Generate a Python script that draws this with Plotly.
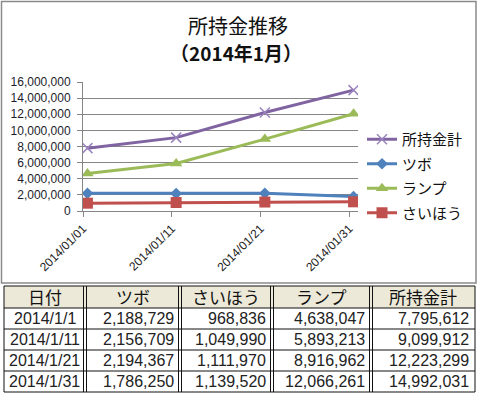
import plotly.graph_objects as go
import pandas as pd

# ---- data ----
dates = ["2014/1/1", "2014/1/11", "2014/1/21", "2014/1/31"]
tsubo = [2188729, 2156709, 2194367, 1786250]
saihou = [968836, 1049990, 1111970, 1139520]
lamp = [4638047, 5893213, 8916962, 12066261]
total = [7795612, 9099912, 12223299, 14992031]
headers = ["日付", "ツボ", "さいほう", "ランプ", "所持金計"]
title_line1 = "所持金推移"
title_line2 = "（2014年1月）"

W, H = 480, 398
def px(x):
    return x / W
def py(y):
    return 1 - y / H

xd = pd.to_datetime(dates, format="%Y/%m/%d")

fig = go.Figure()
series = [
    ("所持金計", total, "#8064A2", dict(symbol="x-thin", size=10, line=dict(width=1.5, color="#9A84BE"))),
    ("ツボ", tsubo, "#4F81BD", dict(symbol="diamond", size=9)),
    ("ランプ", lamp, "#9BBB59", dict(symbol="triangle-up", size=11)),
    ("さいほう", saihou, "#C0504D", dict(symbol="square", size=11)),
]
for name, vals, col, mk in series:
    mk = dict(mk)
    mk.setdefault("color", col)
    fig.add_trace(go.Scatter(
        x=xd, y=vals, name=name, mode="lines+markers", legendgroup=name,
        line=dict(color=col, width=3), marker=mk,
        xperiod=86400000, xperiodalignment="middle",
    ))

fig.update_layout(
    width=W, height=H, margin=dict(l=0, r=0, t=0, b=0, autoexpand=False),
    paper_bgcolor="white", plot_bgcolor="white",
    showlegend=True,
    legend=dict(x=px(362), y=py(123), xanchor="left", yanchor="top",
                font=dict(family="Noto Sans CJK JP", size=15, color="#111"),
                bgcolor="rgba(0,0,0,0)", itemwidth=30, tracegroupgap=2),
    xaxis=dict(
        domain=[px(83), px(358)], automargin=False,
        range=[pd.Timestamp("2014-01-01"), pd.Timestamp("2014-02-01")],
        tickvals=xd, tickformat="%Y/%m/%d", tickangle=-45,
        ticks="outside", ticklen=5, tickcolor="#868686",
        showline=True, linecolor="#868686", linewidth=1,
        showgrid=False, zeroline=False,
        tickfont=dict(family="Liberation Sans", size=12, color="#222"),
    ),
    yaxis=dict(
        domain=[py(211), py(82)], automargin=False,
        range=[0, 16000000], dtick=2000000, tickformat=",d",
        ticks="outside", ticklen=5, tickcolor="#868686",
        showline=True, linecolor="#868686", linewidth=1,
        showgrid=True, gridcolor="#868686", gridwidth=1, zeroline=False,
        tickfont=dict(family="Liberation Sans", size=12, color="#1c1c2c"),
        ticklabelstandoff=4,
    ),
)

def ann(x, y, text, font, xanchor="center"):
    return dict(x=x, y=y, text=text, showarrow=False, xref="paper", yref="paper",
                xanchor=xanchor, yanchor="middle", font=font)

annotations = [
    ann(px(238), py(26), title_line1, dict(family="Noto Sans CJK JP", size=20, color="#111")),
    ann(px(236), py(52), "<b>" + title_line2 + "</b>", dict(family="Noto Sans CJK JP", size=19, color="#111")),
]

shapes = [
    # chart frame
    dict(type="rect", xref="paper", yref="paper", x0=px(1.5), x1=px(476), y0=py(283), y1=py(1.5),
         line=dict(color="#8a8a8a", width=1.5), layer="above"),
]

# ---- table ----
col_edges = [4, 85, 180, 272, 371, 475]
row_edges = [286, 308, 329, 350, 371, 392]
shapes.append(dict(type="rect", xref="paper", yref="paper", x0=px(col_edges[0]), x1=px(col_edges[-1]),
                   y0=py(row_edges[1]), y1=py(row_edges[0]), fillcolor="#ECE9D8", line=dict(width=0), layer="below"))
for yv in row_edges:
    shapes.append(dict(type="line", xref="paper", yref="paper", x0=px(col_edges[0]), x1=px(col_edges[-1]),
                       y0=py(yv), y1=py(yv), line=dict(color="#111", width=1)))
for i, xv in enumerate(col_edges):
    offs = [0] if i in (0, len(col_edges) - 1) else [-1.5, 1.5]
    for o in offs:
        shapes.append(dict(type="line", xref="paper", yref="paper", x0=px(xv + o), x1=px(xv + o),
                           y0=py(row_edges[0]), y1=py(row_edges[-1]), line=dict(color="#111", width=1)))

tfont = dict(family="Liberation Sans", size=16, color="#222")
for j, h in enumerate(headers):
    annotations.append(ann(px((col_edges[j] + col_edges[j + 1]) / 2), py((row_edges[0] + row_edges[1]) / 2 - 0.5),
                           h, dict(family="Noto Sans CJK JP", size=17, color="#111")))
cols = [tsubo, saihou, lamp, total]
for r in range(len(dates)):
    yc = py((row_edges[r + 1] + row_edges[r + 2]) / 2)
    annotations.append(ann(px((col_edges[0] + col_edges[1]) / 2), yc, dates[r], tfont))
    for c, vals in enumerate(cols):
        annotations.append(ann(px(col_edges[c + 2] - 4), yc, f"{vals[r]:,}", tfont, xanchor="right"))

fig.update_layout(shapes=shapes, annotations=annotations)
fig.write_html("out.html", config={"displayModeBar": False},
               post_script="document.body.style.margin='0px';document.body.style.padding='0px';")
